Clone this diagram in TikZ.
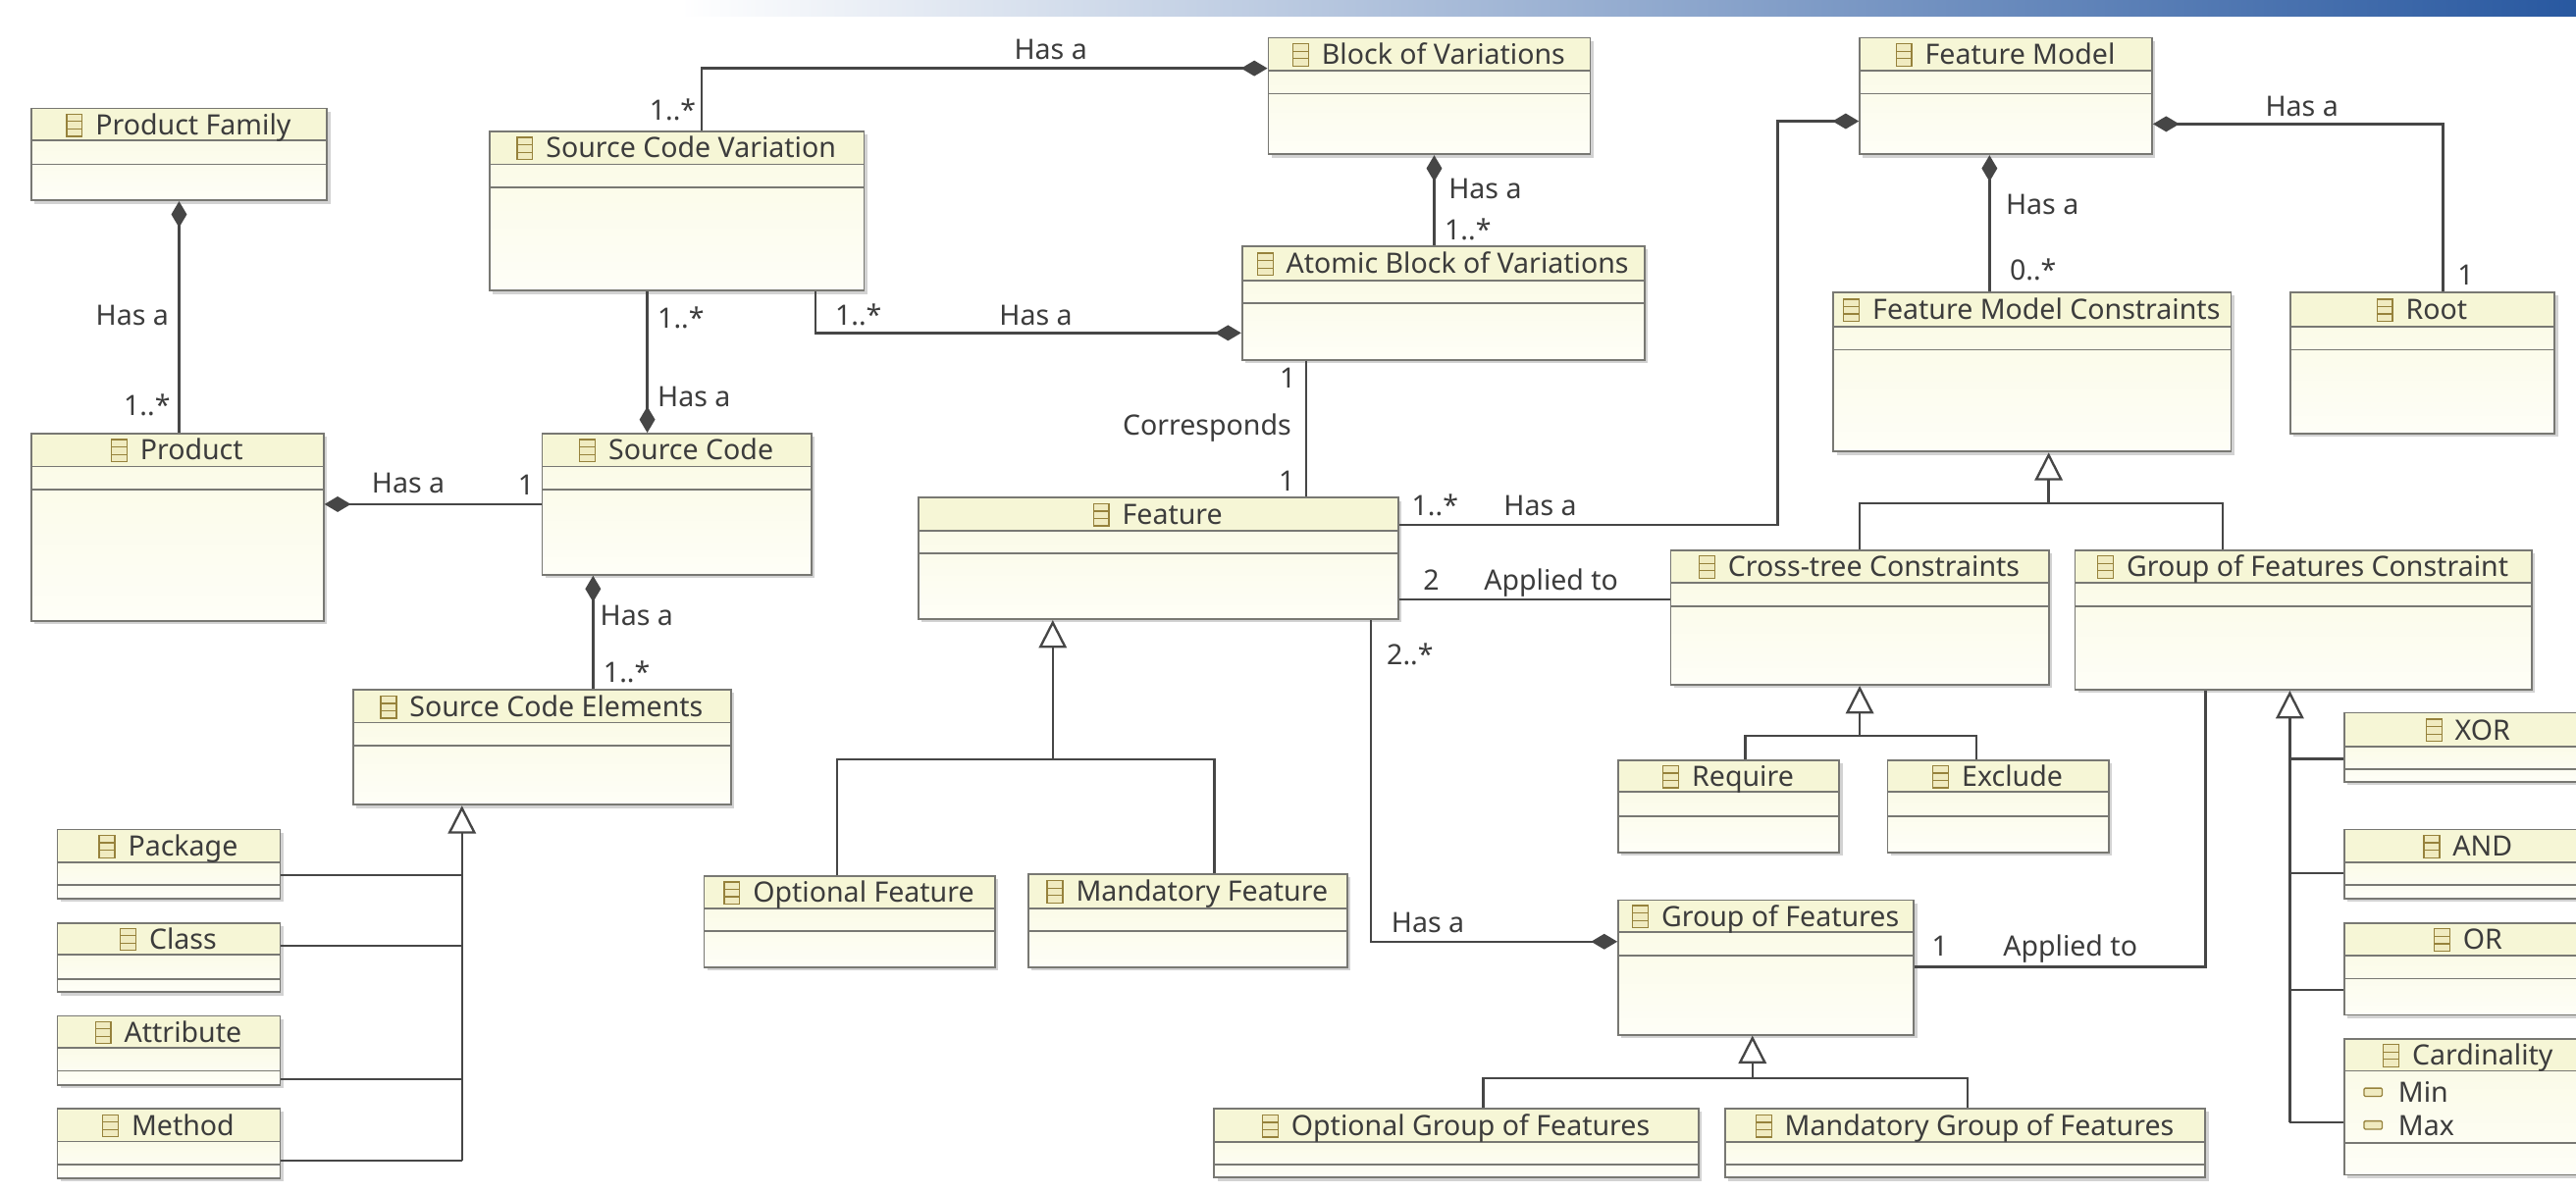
\documentclass[tikz,border=0pt]{standalone}
\usepackage{fontspec}
\setmainfont{Noto Sans}
\usetikzlibrary{arrows.meta,fit}
\definecolor{headc}{RGB}{246,246,214}
\definecolor{bodyA}{RGB}{251,251,232}
\definecolor{bodyB}{RGB}{254,254,247}
\definecolor{boxc}{RGB}{120,120,115}
\definecolor{shadowc}{RGB}{210,210,210}
\definecolor{linec}{RGB}{70,70,70}
\definecolor{txtc}{RGB}{60,60,60}
\definecolor{iconc}{RGB}{150,130,60}
\definecolor{iconf}{RGB}{240,235,192}
\definecolor{bandc}{RGB}{40,88,160}
\newcommand\lblfont{\fontsize{9.7}{11}\selectfont}
\tikzset{
  conn/.style={draw=linec, line width=0.8pt},
  comp/.style={conn, {Diamond[length=0.32cm,width=0.19cm]}-},
  gen/.style={conn, {Triangle[open,length=0.34cm,width=0.34cm,fill=white]}-},
  lbl/.style={font=\lblfont, text=txtc, inner sep=0pt, text height=7pt, text depth=0pt, anchor=west},
  titlest/.style={font=\lblfont, text=txtc, inner sep=0pt, text height=7pt, text depth=0pt, anchor=center},
  iconst/.style={draw=iconc, line width=0.45pt},
}
\newcommand\umlcls[8]{%
  \fill[shadowc] (#2+2,#3+2) rectangle (#4+2,#5+2);
  \shade[top color=bodyA,bottom color=bodyB] (#2,#6) rectangle (#4,#5);
  \fill[headc] (#2,#3) rectangle (#4,#6);
  \coordinate (#1nw) at (#2,#3);
  \coordinate (#1se) at (#4,#5);
  \node[fit=(#1nw)(#1se),inner sep=0pt,draw=boxc,line width=0.6pt] (#1) {};
  \draw[boxc,line width=0.6pt] (#2,#6) -- (#4,#6) (#2,#7) -- (#4,#7);
  \node[titlest] (#1t) at (#2/2+#4/2,#3/2+#6/2) {\hspace*{9.8pt}#8};
  \draw[iconst,fill=iconf] ([yshift=-0.6pt]#1t.base west) rectangle ([xshift=5.4pt,yshift=7.1pt]#1t.base west);
  \draw[iconst] ([yshift=1.97pt]#1t.base west) -- ([xshift=5.4pt,yshift=1.97pt]#1t.base west)
    ([yshift=4.53pt]#1t.base west) -- ([xshift=5.4pt,yshift=4.53pt]#1t.base west);
}
\begin{document}
\begin{tikzpicture}[x=0.02cm,y={(0cm,-0.02cm)}]
\useasboundingbox (0,0) rectangle (1568,726);
\clip (0,0) rectangle (1568,726);
\fill[white] (0,0) rectangle (1568,726);
\shade[left color=white,right color=bandc] (414,0) rectangle (1568,10);

% classes
\umlcls{pf}{19}{66}{199}{122}{85.5}{100}{Product Family}
\umlcls{prod}{19}{264}{197}{378}{284}{298}{Product}
\umlcls{scv}{298}{80}{526}{177}{100}{114}{Source Code Variation}
\umlcls{sc}{330}{264}{494}{350}{284}{298}{Source Code}
\umlcls{bov}{772}{23}{968}{94}{43}{57}{Block of Variations}
\umlcls{abv}{756}{150}{1001}{219}{171}{184.5}{Atomic Block of Variations}
\umlcls{feat}{559}{303}{851}{377}{323}{337}{Feature}
\umlcls{fm}{1132}{23}{1310}{94}{43}{57}{Feature Model}
\umlcls{fmc}{1116}{178}{1358}{275}{199}{213}{Feature Model Constraints}
\umlcls{root}{1394}{178}{1555}{264}{199}{213}{Root}
\umlcls{crt}{1017}{335}{1247}{417}{354.6}{369}{Cross-tree Constraints}
\umlcls{gfc}{1263}{335}{1541}{420}{354.6}{369}{Group of Features Constraint}
\umlcls{req}{985}{463}{1119.5}{519}{482}{497}{Require}
\umlcls{exc}{1149}{463}{1283.5}{519}{482}{497}{Exclude}
\umlcls{xorb}{1427}{434}{1578}{476}{454.5}{468.5}{XOR}
\umlcls{andb}{1427}{505}{1578}{547}{525}{539}{AND}
\umlcls{orb}{1427}{562}{1578}{618}{581.7}{595.8}{OR}
\umlcls{card}{1427}{632.6}{1578}{715.3}{652}{695.8}{Cardinality}
\umlcls{gof}{985}{548}{1165}{630}{567.5}{581.7}{Group of Features}
\umlcls{ogf}{739}{675}{1034}{717}{695.3}{709}{Optional Group of Features}
\umlcls{mgf}{1050}{675}{1342.4}{717}{695.3}{709}{Mandatory Group of Features}
\umlcls{optf}{428.6}{533.5}{605.5}{589}{553}{567}{Optional Feature}
\umlcls{mandf}{626}{532}{820}{589}{553}{567}{Mandatory Feature}
\umlcls{sce}{215}{420}{445}{490}{440}{454}{Source Code Elements}
\umlcls{pkg}{35}{505}{170.5}{547}{525}{539}{Package}
\umlcls{clsb}{35}{562}{170.5}{604}{581}{596}{Class}
\umlcls{attr}{35}{618.5}{170.5}{660.6}{638}{652}{Attribute}
\umlcls{meth}{35}{675}{170.5}{717.4}{695}{709}{Method}

% attributes of Cardinality
\draw[iconst,fill=iconf,rounded corners=0.4pt] (1439,662.5) rectangle (1450,667.5);
\draw[iconst,fill=iconf,rounded corners=0.4pt] (1439,682.5) rectangle (1450,687.5);
\node[lbl] (amin) at (1459.5,665) {Min};
\node[lbl] (amax) at (1459.5,685) {Max};

% junction coordinates
\coordinate (c1) at (394,0);
\coordinate (c2) at (427,41.6);
\coordinate (c3) at (496.5,202.7);
\coordinate (c4) at (873,0);
\coordinate (c5) at (795,0);
\coordinate (c6) at (1082,319.4);
\coordinate (c7) at (1082,73.8);
\coordinate (c8) at (0,365);
\coordinate (c9) at (834.5,573.3);
\coordinate (c10) at (1211,0);
\coordinate (c11) at (1487,75.5);
\coordinate (c12) at (1342.4,588.7);
\coordinate (c13) at (361,0);

% associations
\draw[comp] (pf.south) -- (pf.south |- prod.north);
\draw[comp] (sc.west -| prod.east) -- (sc.west);
\draw[comp] (sc.north -| c1) -- (scv.south -| c1);
\draw[comp] (sc.south -| c13) -- (sce.north -| c13);
\draw[comp] (bov.west |- c2) -- (c2) -- (scv.north -| c2);
\draw[comp] (abv.west |- c3) -- (c3) -- (scv.south -| c3);
\draw[comp] (bov.south -| c4) -- (abv.north -| c4);
\draw[conn] (abv.south -| c5) -- (feat.north -| c5);
\draw[comp] (fm.west |- c7) -- (c7) -- (c6) -- (feat.east |- c6);
\draw[conn] (feat.east |- c8) -- (crt.west |- c8);
\draw[comp] (gof.west |- c9) -- (c9) -- (feat.south -| c9);
\draw[comp] (fm.south -| c10) -- (fmc.north -| c10);
\draw[comp] (fm.east |- c11) -- (c11) -- (root.north -| c11);
\draw[conn] (gfc.south -| c12) -- (c12) -- (gof.east |- c12);

% generalizations
\coordinate (g1) at (1247,306.3);
\coordinate (g1b) at (1352.8,0);
\draw[gen] (fmc.south -| g1) -- (g1);
\draw[conn] (crt.north) |- (g1) -| (gfc.north -| g1b);

\coordinate (g2) at (1132,448);
\coordinate (g2a) at (1062.4,0);
\coordinate (g2b) at (1203,0);
\draw[gen] (crt.south -| g2) -- (g2);
\draw[conn] (req.north -| g2a) |- (g2) -| (exc.north -| g2b);

\coordinate (g3) at (1393.8,683.4);
\coordinate (h1) at (1393.8,462);
\coordinate (h2) at (1393.8,531.7);
\coordinate (h3) at (1393.8,602.8);
\draw[gen] (gfc.south -| g3) -- (g3);
\draw[conn] (xorb.west |- h1) -- (h1);
\draw[conn] (andb.west |- h2) -- (h2);
\draw[conn] (orb.west |- h3) -- (h3);
\draw[conn] (card.west |- g3) -- (g3);

\coordinate (g4) at (640.8,462.2);
\coordinate (g4a) at (509.5,0);
\coordinate (g4b) at (739.2,0);
\draw[gen] (feat.south -| g4) -- (g4);
\draw[conn] (optf.north -| g4a) |- (g4) -| (mandf.north -| g4b);

\coordinate (g5) at (1066.7,656.5);
\coordinate (g5a) at (902.8,0);
\coordinate (g5b) at (1197.7,0);
\draw[gen] (gof.south -| g5) -- (g5);
\draw[conn] (ogf.north -| g5a) |- (g5) -| (mgf.north -| g5b);

\coordinate (g6) at (281.2,706.8);
\coordinate (s1) at (281.2,532.9);
\coordinate (s2) at (281.2,575.8);
\coordinate (s3) at (281.2,657);
\draw[gen] (sce.south -| g6) -- (g6);
\draw[conn] (pkg.east |- s1) -- (s1);
\draw[conn] (clsb.east |- s2) -- (s2);
\draw[conn] (attr.east |- s3) -- (s3);
\draw[conn] (meth.east |- g6) -- (g6);

% labels
\node[lbl] (t1) at (58,192) {Has a};
\node[lbl] (t2) at (75,247) {1..*};
\node[lbl] (t3) at (226,294) {Has a};
\node[lbl] (t4) at (315,295) {1};
\node[lbl] (t5) at (395,67) {1..*};
\node[lbl] (t6) at (617,30) {Has a};
\node[lbl] (t7) at (400,193.5) {1..*};
\node[lbl] (t8) at (400,241.6) {Has a};
\node[lbl] (t9) at (508,192) {1..*};
\node[lbl] (t10) at (608,192) {Has a};
\node[lbl] (t11) at (881.5,115) {Has a};
\node[lbl] (t12) at (879,140) {1..*};
\node[lbl] (t13) at (778.6,230) {1};
\node[lbl] (t14) at (683,259) {Corresponds};
\node[lbl] (t15) at (778,293) {1};
\node[lbl] (t16) at (859,308) {1..*};
\node[lbl] (t17) at (915,308) {Has a};
\node[lbl] (t18) at (866,353) {2};
\node[lbl] (t19) at (903,353) {Applied to};
\node[lbl] (t20) at (843.8,398.8) {2..*};
\node[lbl] (t21) at (846.6,561.8) {Has a};
\node[lbl] (t22) at (1175.6,575.8) {1};
\node[lbl] (t23) at (1219,575.8) {Applied to};
\node[lbl] (t24) at (1220.6,124.5) {Has a};
\node[lbl] (t25) at (1223,164.6) {0..*};
\node[lbl] (t26) at (1378.6,64.4) {Has a};
\node[lbl] (t27) at (1495.6,167.6) {1};
\node[lbl] (t28) at (365,374.8) {Has a};
\node[lbl] (t29) at (367,409.5) {1..*};
\end{tikzpicture}
\end{document}
